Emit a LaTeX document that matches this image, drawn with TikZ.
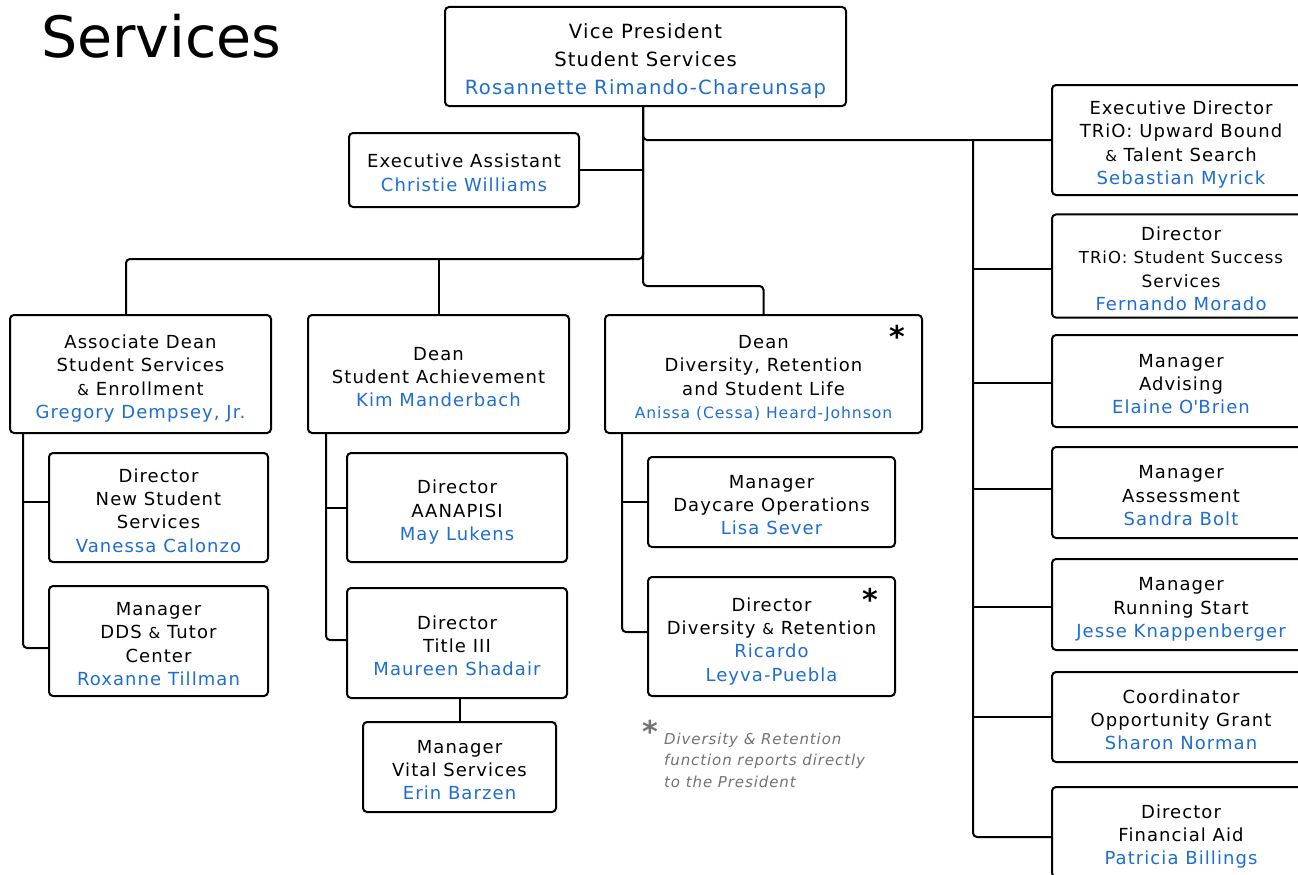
\documentclass[tikz,border=0pt]{standalone}
\usepackage{fontspec}
\setmainfont{DejaVu Sans}[LetterSpace=6]
\newfontfamily\titlefont{DejaVu Sans}
\usetikzlibrary{calc}
\definecolor{nameblue}{RGB}{30,110,210}
\definecolor{notegray}{RGB}{115,115,115}
\newcommand\who[1]{\textcolor{nameblue}{#1}}
\newcommand\smallamp{{\fontsize{15}{15}\selectfont\&}}
% fixed first-line height and last-line depth, so every block sits alike
\newcommand\topprop{\rule{0pt}{1.46em}}
\newcommand\botprop{\rule[-0.39em]{0pt}{0.39em}}
\newcommand\blk[1]{\topprop#1\botprop}
\tikzset{
  box/.style={draw=black, line width=2pt, rounded corners=4pt, fill=white,
    align=center, inner sep=0pt, font=\fontsize{18}{23.3}\selectfont},
  rbox/.style={box, minimum width=258pt},
  link/.style={line width=2pt, rounded corners=4pt},
  starmark/.style={inner sep=0pt, font=\titlefont\bfseries\fontsize{30}{30}\selectfont},
}
\begin{document}
\begin{tikzpicture}[x=1pt,y=-1pt]
\useasboundingbox (0,0) rectangle (1298,875);
\clip (0,0) rectangle (1298,875);
\fill[white] (0,0) rectangle (1298,875);

% heading
\node[anchor=base west, inner sep=0pt, font=\titlefont\fontsize{57}{57}\selectfont] (title) at (41,58) {Services};

% top of the tree
\node[box, minimum width=401pt, minimum height=99pt, font=\fontsize{19.6}{28}\selectfont] (vp) at (645.5,56.5)
  {\blk{Vice President\\Student Services\\\who{Rosannette Rimando-Chareunsap}}};
\node[box, minimum width=230pt, minimum height=74pt, font=\fontsize{18}{24.5}\selectfont] (ea) at (464,170)
  {\blk{Executive Assistant\\\who{Christie Williams}}};

% deans
\node[box, minimum width=261pt, minimum height=118pt] (ad) at (140.5,374)
  {\blk{Associate Dean\\Student Services\\\smallamp{} Enrollment\\\who{Gregory Dempsey, Jr.}}};
\node[box, minimum width=261pt, minimum height=118pt] (dsa) at (438.5,374)
  {\blk{Dean\\Student Achievement\\\who{Kim Manderbach}}};
\node[box, minimum width=317pt, minimum height=118pt] (drsl) at (763.5,374)
  {\blk{Dean\\Diversity, Retention\\and Student Life\\{\fontsize{15.6}{20}\selectfont\who{Anissa (Cessa) Heard-Johnson}}}};

% under the associate dean
\node[box, minimum width=219pt, minimum height=109pt] (dnss) at (158.5,507.5)
  {\blk{Director\\New Student\\Services\\\who{Vanessa Calonzo}}};
\node[box, minimum width=219pt, minimum height=110pt] (dds) at (158.5,641)
  {\blk{Manager\\DDS \smallamp{} Tutor\\Center\\\who{Roxanne Tillman}}};

% under student achievement
\node[box, minimum width=220pt, minimum height=109pt] (aan) at (457,507.5)
  {\blk{Director\\AANAPISI\\\who{May Lukens}}};
\node[box, minimum width=220pt, minimum height=110pt] (t3) at (457,643)
  {\blk{Director\\Title III\\\who{Maureen Shadair}}};
\node[box, minimum width=193pt, minimum height=90pt] (vital) at (459.5,767)
  {\blk{Manager\\Vital Services\\\who{Erin Barzen}}};

% under diversity, retention and student life
\node[box, minimum width=247pt, minimum height=90pt] (day) at (771.5,502)
  {\blk{Manager\\Daycare Operations\\\who{Lisa Sever}}};
\node[box, minimum width=247pt, minimum height=119pt] (dr) at (771.5,636.5)
  {\blk{Director\\Diversity \smallamp{} Retention\\\who{Ricardo}\\\who{Leyva-Puebla}}};

% right-hand column
\node[rbox, minimum height=110pt] (trio1) at (1181,140)
  {\blk{Executive Director\\TRiO: Upward Bound\\\smallamp{} Talent Search\\\who{Sebastian Myrick}}};
\node[rbox, minimum height=100pt] (trio2) at (1181,266)
  {\blk{Director\\{\fontsize{16.5}{20}\selectfont TRiO: Student Success}\\{\fontsize{17}{20}\selectfont Services}\\\who{Fernando Morado}}};
\node[rbox, minimum height=92pt] (adv) at (1181,381)
  {\blk{Manager\\Advising\\\who{Elaine O\textquotesingle Brien}}};
\node[rbox, minimum height=91pt] (ass) at (1181,492.5)
  {\blk{Manager\\Assessment\\\who{Sandra Bolt}}};
\node[rbox, minimum height=91pt] (rs) at (1181,604.5)
  {\blk{Manager\\Running Start\\\who{Jesse Knappenberger}}};
\node[rbox, minimum height=90pt] (coord) at (1181,717)
  {\blk{Coordinator\\Opportunity Grant\\\who{Sharon Norman}}};
\node[rbox, minimum height=90pt] (fa) at (1181,832)
  {\blk{Director\\Financial Aid\\\who{Patricia Billings}}};

% asterisks and footnote
\node[starmark] (st1) at (897,336) {*};
\node[starmark] (st2) at (870,599) {*};
\node[starmark, text=notegray] (st3) at (650,731) {*};
\node[anchor=north west, inner sep=0pt, align=left, text=notegray,
      font=\itshape\fontsize{15}{21.5}\selectfont] (note) at (664,729)
  {\strut Diversity \smallamp{} Retention\\function reports directly\\to the President};

% spine below the vice president
\coordinate (sp) at ([xshift=-2.5pt]vp.south);
\coordinate (j1) at (643,259);
\coordinate (j2) at (643,286);
\coordinate (rb) at (973,141);

\draw[link] (ea.east) -- (ea.east -| sp);
\draw[link] (sp) -- (j1) -| ([xshift=-14.5pt]ad.north);
\draw[link] (dsa.north) -- (dsa.north |- j1);
\draw[link] (sp) -- (j2) -| (drsl.north);
\draw[link] (sp) |- (trio1.west);

% right-hand bus
\draw[link] (rb) |- ([yshift=-5pt]fa.west);
\foreach \n/\dy in {trio2/-3, adv/-2, ass/3.5, rs/-2.5, coord/0}
  \draw[link] ([yshift=\dy pt]\n.west) -- ([yshift=\dy pt]\n.west -| rb);

% associate dean branch
\coordinate (adb) at ([xshift=14pt]ad.south west);
\draw[link] (adb) |- ([yshift=-7pt]dds.west);
\draw[link] ([yshift=5.5pt]dnss.west) -- ([yshift=5.5pt]dnss.west -| adb);

% student achievement branch
\coordinate (dsab) at ([xshift=19pt]dsa.south west);
\draw[link] (dsab) |- ([yshift=3pt]t3.west);
\draw[link] (aan.west) -- (aan.west -| dsab);
\draw[link] (t3.south -| vital.north) -- (vital.north);

% diversity branch
\coordinate (drb) at ([xshift=18pt]drsl.south west);
\draw[link] (drb) |- ([yshift=4.5pt]dr.west);
\draw[link] (day.west) -- (day.west -| drb);
\end{tikzpicture}
\end{document}
